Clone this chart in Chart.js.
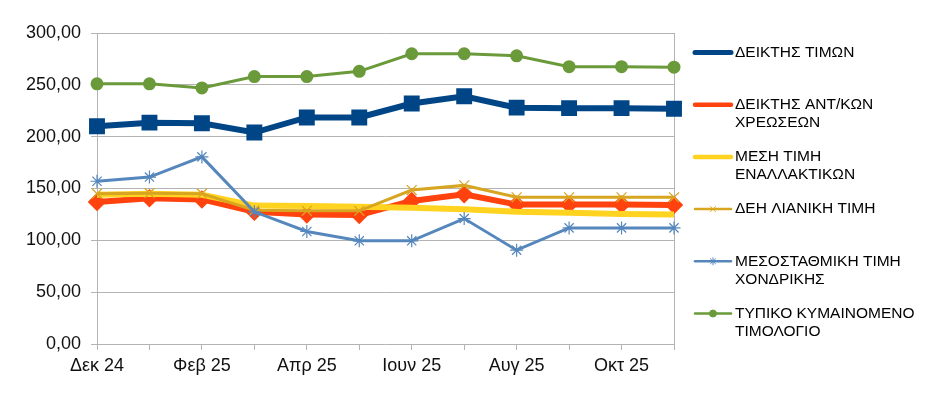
<!DOCTYPE html>
<html>
<head>
<meta charset="utf-8">
<script src="https://cdn.jsdelivr.net/npm/chart.js@4.4.1/dist/chart.umd.min.js"></script>
<style>
  body { margin: 0; background: #fff; }
  #wrap { width: 950px; height: 394px; position: relative; }
</style>
</head>
<body>
<div id="wrap"><canvas id="chart"></canvas></div>
<script>
  // months on the x axis
  var months = ['Δεκ 24', 'Ιαν 25', 'Φεβ 25', 'Μαρ 25', 'Απρ 25', 'Μαϊ 25',
                'Ιουν 25', 'Ιουλ 25', 'Αυγ 25', 'Σεπ 25', 'Οκτ 25', 'Νοε 25'];

  // series values
  var deiktisTimon    = [210, 213.5, 213, 204, 218.5, 218.5, 232, 239, 228, 227.5, 227.5, 227];
  var deiktisXreoseon = [137, 140.5, 139.5, 127.5, 125, 124.5, 138, 144.5, 134.5, 134.5, 134.5, 134];
  var mesiEnallaktikon = [144, 145, 144, 133.5, 133, 132.5, 131.5, 130, 127.5, 126.5, 125.5, 125];
  var deiLianiki      = [145, 145.5, 145, 129, 128.5, 128.5, 148.5, 153, 141.5, 141.5, 141.5, 141.5];
  var mesostathmiki   = [157, 161, 180.5, 127.5, 108.5, 99.5, 99.5, 121, 90.5, 112, 112, 112];
  var typikoKymain    = [251, 251, 247, 258, 258, 263, 280, 280, 278, 267.5, 267.5, 267];

  // legend names (one entry per line of text)
  var names = [
    ['ΔΕΙΚΤΗΣ ΤΙΜΩΝ'],
    ['ΔΕΙΚΤΗΣ ΑΝΤ/ΚΩΝ', 'ΧΡΕΩΣΕΩΝ'],
    ['ΜΕΣΗ ΤΙΜΗ', 'ΕΝΑΛΛΑΚΤΙΚΩΝ'],
    ['ΔΕΗ ΛΙΑΝΙΚΗ ΤΙΜΗ'],
    ['ΜΕΣΟΣΤΑΘΜΙΚΗ ΤΙΜΗ', 'ΧΟΝΔΡΙΚΗΣ'],
    ['ΤΥΠΙΚΟ ΚΥΜΑΙΝΟΜΕΝΟ', 'ΤΙΜΟΛΟΓΙΟ']
  ];

  var yTicks = [0, 50, 100, 150, 200, 250, 300];

  var FONT = '"Liberation Sans", Arial, sans-serif';
  var GRID = '#b3b3b3';

  function fmt(v) {
    return v.toFixed(2).replace('.', ',');
  }

  // legend on the right, drawn by hand so names can wrap
  var sideLegend = {
    id: 'sideLegend',
    afterDraw: function(chart) {
      var ctx = chart.ctx;
      var sets = chart.data.datasets;
      ctx.save();
      ctx.font = '15.5px ' + FONT;
      ctx.textBaseline = 'middle';
      for (var i = 0; i < sets.length; i++) {
        var ds = sets[i];
        var y = 52.5 + i * 52.2;
        ctx.strokeStyle = ds.borderColor;
        ctx.lineWidth = ds.legendLine;
        ctx.lineCap = 'round';
        ctx.beginPath();
        ctx.moveTo(695, y);
        ctx.lineTo(731, y);
        ctx.stroke();
        if (ds.legendMarker && Chart.helpers && Chart.helpers.drawPoint) {
          ctx.fillStyle = ds.borderColor;
          ctx.lineWidth = 1;
          Chart.helpers.drawPoint(ctx, {pointStyle: ds.pointStyle, radius: 3.5, rotation: 0, borderWidth: 1}, 713, y);
        }
        ctx.fillStyle = '#000';
        for (var j = 0; j < ds.names.length; j++) {
          ctx.fillText(ds.names[j], 735, y + j * 18);
        }
      }
      ctx.restore();
    }
  };

  var chart = new Chart('chart', {
    type: 'line',
    data: {
      labels: months,
      datasets: [
        { label: names[0].join(' '), names: names[0], data: deiktisTimon,
          borderColor: '#004586', backgroundColor: '#004586', borderWidth: 6,
          pointStyle: 'rect', pointRadius: 7, legendLine: 5, order: 6 },
        { label: names[1].join(' '), names: names[1], data: deiktisXreoseon,
          borderColor: '#ff420e', backgroundColor: '#ff420e', borderWidth: 6,
          pointStyle: 'rectRot', pointRadius: 5, legendLine: 4.5, order: 5 },
        { label: names[2].join(' '), names: names[2], data: mesiEnallaktikon,
          borderColor: '#ffd320', backgroundColor: '#ffd320', borderWidth: 6,
          pointRadius: 0, legendLine: 4.5, order: 4 },
        { label: names[3].join(' '), names: names[3], data: deiLianiki,
          borderColor: '#d8a520', backgroundColor: '#d8a520', borderWidth: 3,
          pointStyle: 'crossRot', pointRadius: 7, pointBorderWidth: 1.2,
          legendLine: 2.5, legendMarker: true, order: 3 },
        { label: names[4].join(' '), names: names[4], data: mesostathmiki,
          borderColor: '#5587bd', backgroundColor: '#5587bd', borderWidth: 3,
          pointStyle: 'star', pointRadius: 6.5, pointBorderWidth: 1.2,
          legendLine: 2.5, legendMarker: true, order: 2 },
        { label: names[5].join(' '), names: names[5], data: typikoKymain,
          borderColor: '#6a9a3a', backgroundColor: '#6a9a3a', borderWidth: 3,
          pointStyle: 'circle', pointRadius: 5, legendLine: 2.5, legendMarker: true, order: 1 }
      ]
    },
    options: {
      responsive: true,
      maintainAspectRatio: false,
      animation: false,
      layout: { padding: { left: 0, right: 276, top: 33, bottom: 0 } },
      plugins: {
        legend: { display: false },
        tooltip: { enabled: false }
      },
      elements: { line: { tension: 0 } },
      scales: {
        x: {
          offset: false,
          grid: {
            color: function(c) {
              return (c.index === 0 || c.index === months.length - 1) ? GRID : 'rgba(0,0,0,0)';
            },
            tickColor: GRID,
            tickLength: 6,
            lineWidth: 1
          },
          border: { display: false },
          ticks: {
            autoSkip: false,
            maxRotation: 0,
            padding: 5,
            color: '#111',
            font: { family: FONT, size: 18 },
            callback: function(v, i) { return i % 2 === 0 ? months[i] : ''; }
          },
          afterFit: function(s) { s.height = 50; }
        },
        y: {
          min: 0,
          max: 300,
          afterBuildTicks: function(s) {
            s.ticks = yTicks.map(function(v) { return { value: v }; });
          },
          grid: { color: GRID, tickLength: 6, lineWidth: 1 },
          border: { display: false },
          ticks: {
            padding: 10,
            color: '#111',
            font: { family: FONT, size: 18 },
            callback: function(v) { return fmt(v); }
          },
          afterFit: function(s) { s.width = 97; }
        }
      }
    },
    plugins: [sideLegend]
  });
</script>
</body>
</html>
